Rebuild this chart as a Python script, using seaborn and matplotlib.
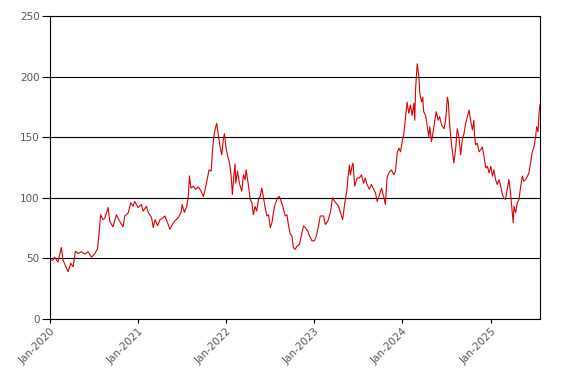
import matplotlib
matplotlib.use("Agg")
import matplotlib.pyplot as plt
import matplotlib.dates as mdates
import pandas as pd
import seaborn as sns

dates = [
    "2020-01-01", "2020-01-13", "2020-01-20", "2020-02-03", "2020-02-17", "2020-02-24", "2020-03-05",
    "2020-03-16", "2020-03-27", "2020-04-06", "2020-04-15", "2020-04-26", "2020-05-10", "2020-05-24",
    "2020-06-07", "2020-06-21", "2020-07-05", "2020-07-16", "2020-07-21", "2020-07-29", "2020-08-08",
    "2020-08-15", "2020-08-29", "2020-09-05", "2020-09-18", "2020-10-02", "2020-10-16", "2020-10-30",
    "2020-11-06", "2020-11-20", "2020-12-01", "2020-12-10", "2020-12-17", "2020-12-31",
    "2021-01-14", "2021-01-21", "2021-02-04", "2021-02-11", "2021-02-25", "2021-03-04", "2021-03-11",
    "2021-03-22", "2021-04-01", "2021-04-14", "2021-04-21", "2021-05-05", "2021-05-12", "2021-05-22",
    "2021-06-02", "2021-06-16", "2021-06-27", "2021-07-02", "2021-07-11", "2021-07-21", "2021-07-27",
    "2021-08-01", "2021-08-07", "2021-08-17", "2021-08-27", "2021-09-07", "2021-09-18", "2021-09-28",
    "2021-10-05", "2021-10-12", "2021-10-21", "2021-10-30", "2021-11-04", "2021-11-10", "2021-11-15",
    "2021-11-22", "2021-11-29", "2021-12-06", "2021-12-13", "2021-12-20", "2021-12-24", "2021-12-30",
    "2022-01-07", "2022-01-14", "2022-01-21", "2022-01-26", "2022-02-01", "2022-02-06", "2022-02-09",
    "2022-02-16", "2022-02-24", "2022-03-06", "2022-03-13", "2022-03-20", "2022-03-24", "2022-04-03",
    "2022-04-10", "2022-04-17", "2022-04-23", "2022-04-30", "2022-05-07", "2022-05-14", "2022-05-21",
    "2022-05-28", "2022-06-04", "2022-06-11", "2022-06-18", "2022-06-25", "2022-07-02", "2022-07-09",
    "2022-07-15", "2022-07-22", "2022-08-01", "2022-08-09", "2022-08-16", "2022-08-23", "2022-09-02",
    "2022-09-09", "2022-09-16", "2022-09-23", "2022-09-30", "2022-10-06", "2022-10-13", "2022-10-20",
    "2022-10-31", "2022-11-10", "2022-11-17", "2022-11-24", "2022-12-04", "2022-12-12", "2022-12-22",
    "2023-01-01", "2023-01-09", "2023-01-18", "2023-01-25", "2023-02-08", "2023-02-15", "2023-02-26",
    "2023-03-08", "2023-03-17", "2023-03-26", "2023-04-05", "2023-04-11", "2023-04-23", "2023-04-28",
    "2023-05-06", "2023-05-16", "2023-05-20", "2023-05-26", "2023-05-30", "2023-06-06", "2023-06-10",
    "2023-06-17", "2023-06-27", "2023-07-06", "2023-07-15", "2023-07-24", "2023-07-31", "2023-08-07",
    "2023-08-17", "2023-08-25", "2023-09-04", "2023-09-11", "2023-09-18", "2023-09-25", "2023-10-06",
    "2023-10-15", "2023-10-22", "2023-10-29", "2023-11-05", "2023-11-16", "2023-11-26", "2023-12-03",
    "2023-12-10", "2023-12-17", "2023-12-24",
    "2024-01-01", "2024-01-06", "2024-01-13", "2024-01-20", "2024-01-27", "2024-02-03", "2024-02-10",
    "2024-02-17", "2024-02-21", "2024-02-24", "2024-03-02", "2024-03-09", "2024-03-13", "2024-03-20",
    "2024-03-25", "2024-03-29", "2024-04-06", "2024-04-13", "2024-04-19", "2024-04-23", "2024-04-30",
    "2024-05-06", "2024-05-14", "2024-05-20", "2024-05-28", "2024-06-03", "2024-06-11", "2024-06-21",
    "2024-06-28", "2024-07-05", "2024-07-09", "2024-07-14", "2024-07-20", "2024-07-25", "2024-08-01",
    "2024-08-08", "2024-08-15", "2024-08-22", "2024-08-29", "2024-09-05", "2024-09-12", "2024-09-19",
    "2024-09-26", "2024-10-03", "2024-10-10", "2024-10-17", "2024-10-23", "2024-10-26", "2024-10-30",
    "2024-11-06", "2024-11-13", "2024-11-20", "2024-11-27", "2024-12-04", "2024-12-11", "2024-12-18",
    "2024-12-25",
    "2025-01-01", "2025-01-08", "2025-01-14", "2025-01-21", "2025-01-28", "2025-02-04", "2025-02-11",
    "2025-02-18", "2025-02-24", "2025-03-03", "2025-03-10", "2025-03-17", "2025-03-24", "2025-03-31",
    "2025-04-04", "2025-04-07", "2025-04-14", "2025-04-21", "2025-04-28", "2025-05-05", "2025-05-12",
    "2025-05-18", "2025-05-25", "2025-06-02", "2025-06-08", "2025-06-15", "2025-06-22", "2025-06-29",
    "2025-07-06", "2025-07-10", "2025-07-16", "2025-07-20", "2025-07-24",
]

values = [
    48.6, 48.6, 51, 47, 59, 48.6, 44,
    39, 46, 43, 56, 54, 55.5, 53.6,
    55.5, 51, 54, 58, 68, 86, 82,
    83, 92, 80.5, 76, 86, 80.5, 76,
    85, 87.5, 96, 93, 97, 92,
    94.5, 89, 93, 88, 83.6, 75.4, 82,
    77, 82, 83.6, 85, 78, 74, 78,
    81, 83.6, 88, 94.5, 88, 93, 101,
    118, 108, 109.6, 107, 109, 105.5, 101,
    107, 113.7, 123, 122, 138, 150.5, 156,
    161.5, 152, 142, 135.5, 149, 153, 142,
    134, 128.7, 118, 102.7, 118, 128, 112,
    122, 112, 105.5, 119, 115, 123, 109.6,
    98.6, 96, 86, 93, 89, 98.6, 101,
    108, 100, 91.8, 85, 86, 75.4, 79.5,
    87.7, 94.5, 100, 101, 97, 93, 85,
    86, 76.8, 70, 68.5, 58.8, 57.4, 60,
    61.5, 71, 76.8, 75.4, 72.6, 68.5, 64.5,
    64.5, 68.5, 76.8, 85, 85, 78, 81,
    87.7, 100, 97, 94.5, 93, 85, 82,
    94.5, 107, 116.4, 127, 119, 126, 128.7,
    109.6, 116.4, 116.4, 119, 112, 116.4, 111,
    107, 111, 107, 104, 97, 101, 108,
    101, 94.5, 116.4, 120.5, 123, 119, 122,
    137, 141, 138,
    148, 152, 165, 179, 169.7, 176.5, 168,
    178, 164, 189, 210.6, 199.7, 186, 179,
    183, 171, 168, 158.7, 150.5, 158.7, 146.4,
    153, 164, 171, 164, 167, 160, 157,
    164, 183, 179, 161.5, 148, 139.6, 128.7,
    139.6, 157, 150.5, 135.5, 148, 153, 161.5,
    167, 172.4, 163, 156, 164, 150.5, 143.7,
    145, 138, 139.6, 142, 134, 124.6, 126,
    120.5,
    126, 117.8, 123, 115, 111, 115, 109.6,
    102.7, 100, 98.6, 106.8, 115, 104, 87.7,
    79.5, 93, 87.7, 96, 98.6, 109.6, 117.8,
    113.7, 115, 117.8, 120.5, 128.7, 138, 142,
    150.5, 158.7, 154.6, 169.7, 177,
]

y_ticks = [0, 50, 100, 150, 200, 250]

df = pd.DataFrame({"date": pd.to_datetime(dates), "value": values})

sns.set_theme(style="white")
plt.rcParams["font.family"] = ["DejaVu Sans"]

fig = plt.figure(figsize=(5.67, 3.83), dpi=100)
ax = fig.add_axes([50 / 567, 1 - 319 / 383, (540 - 50) / 567, (319 - 16) / 383])

sns.lineplot(data=df, x="date", y="value", ax=ax, color="#e00000", linewidth=0.8)

ax.set_ylim(0, 250)
ax.set_yticks(y_ticks)
ax.set_xlim(df["date"].iloc[0], df["date"].iloc[-1])
ax.xaxis.set_major_locator(mdates.YearLocator())
ax.xaxis.set_major_formatter(mdates.DateFormatter("%b-%Y"))

ax.grid(axis="y", color="black", linewidth=0.8)
ax.grid(axis="x", visible=False)
for s in ax.spines.values():
    s.set_color("black")
    s.set_linewidth(0.8)

ax.tick_params(axis="both", which="major", labelsize=7.5, labelcolor="#595959",
               color="black", width=0.8, direction="out")
ax.tick_params(axis="x", bottom=True, length=3, pad=2)
ax.tick_params(axis="y", left=True, length=6, pad=1.5)
for lab in ax.get_xticklabels():
    lab.set_rotation(45)
    lab.set_ha("right")
    lab.set_rotation_mode("anchor")

ax.set_xlabel("")
ax.set_ylabel("")

fig.savefig("out.png", dpi=100)
